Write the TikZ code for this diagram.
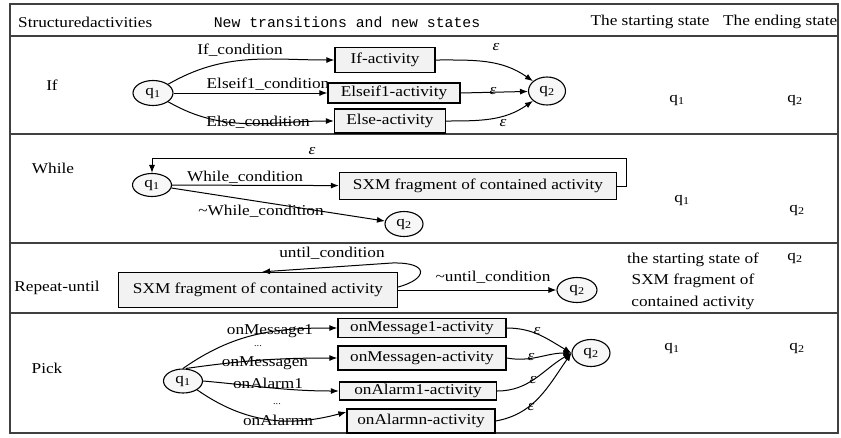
\documentclass[tikz,border=0pt]{standalone}
\usepackage{fontspec}
\setmainfont[FakeStretch=1.15]{Liberation Serif}
\setmonofont{Liberation Mono}
\usetikzlibrary{shapes.geometric,arrows.meta}
\begin{document}
\begin{tikzpicture}[x=1pt,y=-1pt,
  font=\fontsize{15}{17}\selectfont,
  grid/.style={line width=1.4pt, draw=black!75},
  box/.style={draw, line width=1.3pt, fill=gray!10, inner sep=0pt},
  st/.style={ellipse, draw, line width=1.1pt, fill=gray!6, inner sep=0pt},
  arr/.style={-{Latex[length=8pt,width=6pt]}, line width=1pt},
  lab/.style={inner sep=0pt},
  dots/.style={inner sep=0pt, font=\fontsize{9}{9}\selectfont},
]
\useasboundingbox (0,0) rectangle (841,437);
\fill[white] (0,0) rectangle (841,437);

% table
\draw[grid] (10,4) rectangle (838,433);
\draw[grid] (10,36) -- (838,36);
\draw[grid] (10,134) -- (838,134);
\draw[grid] (10,243) -- (838,243);
\draw[grid] (10,313) -- (838,313);

% header
\node[lab, anchor=west] (h1) at (18,22) {Structuredactivities};
\node[lab, font=\ttfamily\fontsize{14.8}{17}\selectfont] (h2) at (347,22) {New transitions and new states};
\node[lab] (h3) at (650,22) {The starting state};
\node[lab, anchor=west] (h4) at (723,22) {The ending state};

% row labels
\node[lab] (rIf) at (52,85) {If};
\node[lab] (rWhile) at (53,168) {While};
\node[lab] (rRep) at (57,288) {Repeat-until};
\node[lab] (rPick) at (47,368) {Pick};

% ---------- If row
\node[st, minimum width=40, minimum height=25] (iq1) at (153,93) {q\textsubscript{1}};
\node[box, minimum width=100, minimum height=25] (ifa) at (385,60) {If-activity};
\node[box, minimum width=132, minimum height=20] (eifa) at (394,93) {Elseif1-activity};
\node[box, minimum width=111, minimum height=24] (elsa) at (390,121) {Else-activity};
\node[st, minimum width=37, minimum height=28] (iq2) at (547,91) {q\textsubscript{2}};
\draw[arr] (iq1) to[out=30,in=180] (ifa.west);
\draw[arr] (iq1) -- (eifa.west);
\draw[arr] (iq1) to[out=-30,in=180] (elsa.west);
\draw[arr] (ifa.east) to[out=0,in=145] (iq2);
\draw[arr] (eifa.east) -- (iq2);
\draw[arr] (elsa.east) to[out=0,in=-145] (iq2);
\node[lab] (lif) at (240,50) {If\_condition};
\node[lab] (leif) at (268,84) {Elseif1\_condition};
\node[lab] (lels) at (258,122) {Else\_condition};
\node[lab] (ie1) at (496,47) {\textit{ε}};
\node[lab] (ie2) at (493,91) {\textit{ε}};
\node[lab] (ie3) at (503,123) {\textit{ε}};
\node[lab] (iqs) at (677,100) {q\textsubscript{1}};
\node[lab] (iqe) at (795,100) {q\textsubscript{2}};

% ---------- While row
\node[st, minimum width=39, minimum height=23] (wq1) at (152,185) {q\textsubscript{1}};
\node[box, minimum width=277, minimum height=27] (wsxm) at (478,186) {SXM fragment of contained activity};
\node[st, minimum width=38, minimum height=25] (wq2) at (404,224) {q\textsubscript{2}};
\coordinate (wtop) at (626,158);
\draw[arr] (wsxm.east) -| (wtop) -| (wq1.north);
\draw[arr] (wq1) -- (wsxm);
\draw[arr] (wq1) -- (wq2);
\node[lab] (we) at (312,151) {\textit{ε}};
\node[lab] (wl1) at (245,177) {While\_condition};
\node[lab] (wl2) at (261,211) {\textasciitilde While\_condition};
\node[lab] (wqs) at (682,200) {q\textsubscript{1}};
\node[lab] (wqe) at (797,210) {q\textsubscript{2}};

% ---------- Repeat-until row
\node[box, minimum width=279, minimum height=35] (rsxm) at (258,290) {SXM fragment of contained activity};
\node[st, minimum width=40, minimum height=25] (rq2) at (577,290) {q\textsubscript{2}};
\draw[arr] ([yshift=3pt]rsxm.east) .. controls (428,279) and (430,262) .. (392,263) -- ([xshift=4pt]rsxm.north);
\draw[arr] (rsxm.east) -- (rq2);
\node[lab] (rl1) at (332,253) {until\_condition};
\node[lab] (rl2) at (493,277) {\textasciitilde until\_condition};
\node[lab, align=center, font=\fontsize{15}{21.5}\selectfont] (rs) at (693,281) {the starting state of\\SXM fragment of\\contained activity};
\node[lab] (rqe) at (795,258) {q\textsubscript{2}};

% ---------- Pick row
\node[st, minimum width=39, minimum height=24] (pq1) at (183,381) {q\textsubscript{1}};
\node[box, minimum width=168, minimum height=19] (m1) at (422,328) {onMessage1-activity};
\node[box, minimum width=168, minimum height=24] (mn) at (422,358) {onMessagen-activity};
\node[box, minimum width=157, minimum height=18] (a1) at (418,391) {onAlarm1-activity};
\node[box, minimum width=148, minimum height=24] (an) at (421,421) {onAlarmn-activity};
\node[st, minimum width=38, minimum height=27] (pq2) at (591,353) {q\textsubscript{2}};
\draw[arr] (pq1.north) to[out=35,in=180] (m1.west);
\draw[arr] ([xshift=3pt]pq1.north) to[out=8,in=180] (mn.west);
\draw[arr] (pq1.east) to[out=-5,in=180] (a1.west);
\draw[arr] (pq1.south east) to[out=-35,in=195] ([yshift=9pt]an.west);
\draw[arr] (m1.east) to[out=0,in=150] (pq2.west);
\draw[arr] (mn.east) to[out=-10,in=180] (pq2.west);
\draw[arr] (a1.east) to[out=0,in=-150] (pq2.west);
\draw[arr] (an.east) to[out=10,in=-125] (pq2.west);
\node[lab] (pl1) at (270,331) {onMessage1};
\node[dots] (pd1) at (258,346) {...};
\node[lab] (pl2) at (265,363) {onMessagen};
\node[lab] (pl3) at (268,383) {onAlarm1};
\node[dots] (pd2) at (277,404) {...};
\node[lab] (pl4) at (278,420) {onAlarmn};
\node[lab] (pe1) at (537,331) {\textit{ε}};
\node[lab] (pe2) at (531,357) {\textit{ε}};
\node[lab] (pe3) at (533,380) {\textit{ε}};
\node[lab] (pe4) at (531,407) {\textit{ε}};
\node[lab] (pqs) at (672,348) {q\textsubscript{1}};
\node[lab] (pqe) at (797,348) {q\textsubscript{2}};
\end{tikzpicture}
\end{document}
